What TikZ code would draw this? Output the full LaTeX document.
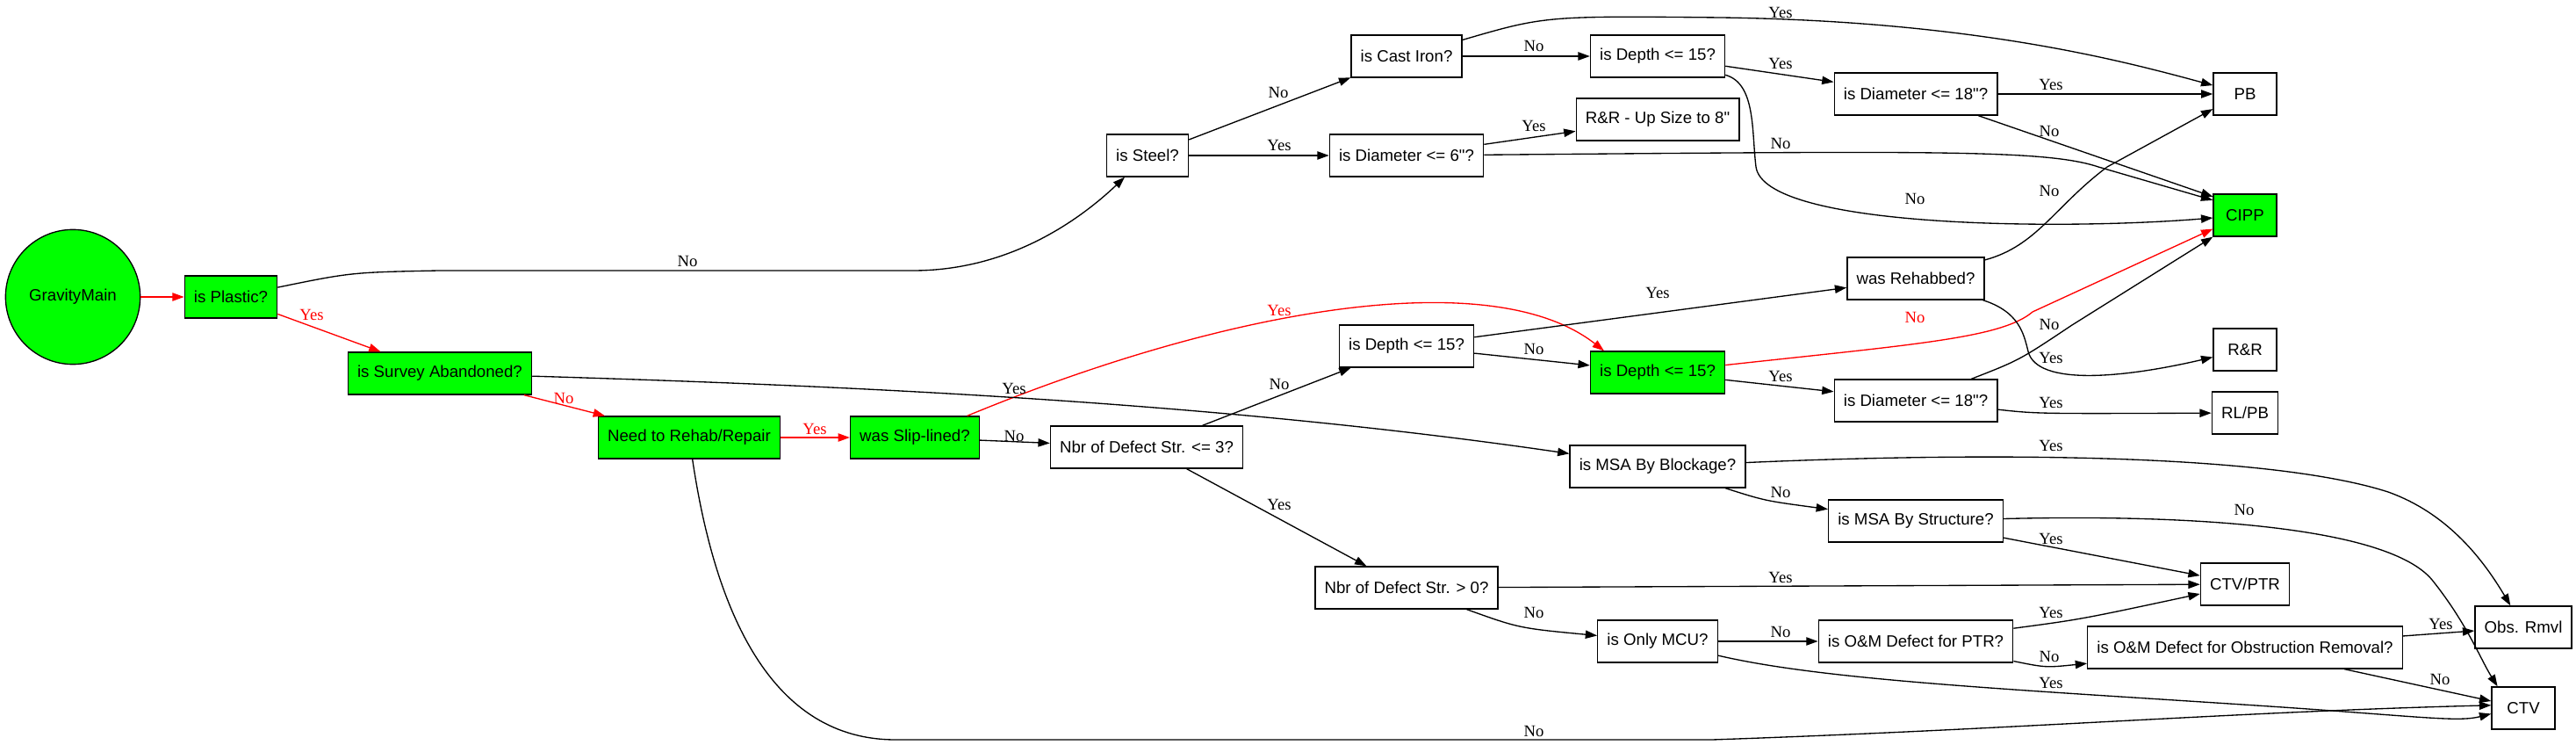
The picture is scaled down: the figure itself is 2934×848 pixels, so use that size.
\documentclass[tikz,border=0pt]{standalone}
\usepackage{fontspec}
\setmainfont{Liberation Serif}
\newfontfamily\gvsans{Liberation Sans}
\usetikzlibrary{arrows.meta}
\definecolor{gvgreen}{RGB}{0,255,0}
\definecolor{gvred}{RGB}{255,0,0}

\begin{document}
\begin{tikzpicture}[
    x=0.75pt, y=-0.75pt,
    every node/.style={font=\fontsize{14}{16}\selectfont},
    box/.style={draw, line width=1pt, font=\gvsans\fontsize{14}{16}\selectfont, minimum height=36pt, minimum width=54pt, inner xsep=8pt, inner ysep=0pt},
    gobox/.style={box, fill=gvgreen},
    arrow/.style={-{Triangle[length=10pt, width=7pt]}, line width=1pt},
    redarrow/.style={arrow, gvred},
    lbl/.style={inner sep=0pt},
    redlbl/.style={lbl, text=gvred}
]
\useasboundingbox (0,0) rectangle (2934,848);

% Start
\node[circle, draw, line width=1pt, fill=gvgreen, font=\gvsans\fontsize{14}{16}\selectfont, minimum size=115pt, inner sep=0pt] (gm) at (83,338) {GravityMain};
\node[gobox] (plastic) at (263,338) {is Plastic?};
\node[gobox] (survey) at (501,425) {is Survey Abandoned?};
\node[gobox] (need) at (785,498) {Need to Rehab/Repair};
\node[gobox] (slip) at (1042,498) {was Slip-lined?};

% Steel / cast iron branch
\node[box] (steel) at (1307,177) {is Steel?};
\node[box] (castiron) at (1602,64) {is Cast Iron?};
\node[box] (diam6) at (1602,177) {is Diameter <= 6"?};
\node[box] (depthA) at (1888,64) {is Depth <= 15?};
\node[box] (rr8) at (1888,136) {R\&R - Up Size to 8"};
\node[box] (diam18A) at (2182,107) {is Diameter <= 18"?};

% Slip-lined branch
\node[box] (nbr3) at (1306,509) {Nbr of Defect Str. <= 3?};
\node[box] (depthM) at (1602,394) {is Depth <= 15?};
\node[gobox] (gdepth) at (1888,424) {is Depth <= 15?};
\node[box] (rehab) at (2182,317) {was Rehabbed?};
\node[box] (diam18B) at (2182,456) {is Diameter <= 18"?};

% MSA branch
\node[box] (msaB) at (1888,531) {is MSA By Blockage?};
\node[box] (msaS) at (2182,593) {is MSA By Structure?};
\node[box] (nbr0) at (1602,669) {Nbr of Defect Str. > 0?};
\node[box] (onlyMCU) at (1888,730) {is Only MCU?};
\node[box] (omPTR) at (2182,730) {is O\&M Defect for PTR?};
\node[box] (omObs) at (2557,737) {is O\&M Defect for Obstruction Removal?};

% Results
\node[box] (pb) at (2557,107) {PB};
\node[gobox] (cipp) at (2557,245) {CIPP};
\node[box] (rr) at (2557,398) {R\&R};
\node[box] (rlpb) at (2557,470) {RL/PB};
\node[box] (ctvptr) at (2557,665) {CTV/PTR};
\node[box] (obs) at (2874,714) {Obs. Rmvl};
\node[box] (ctv) at (2874,806) {CTV};

% Red path
\draw[redarrow] (gm) -- (plastic);
\draw[redarrow] (plastic) -- (survey);
\node[redlbl] (lPlasticYes) at (355,358) {Yes};
\draw[redarrow] (survey) -- (need);
\node[redlbl] (lSurveyNo) at (642,453) {No};
\draw[redarrow] (need) -- (slip);
\node[redlbl] (lNeedYes) at (928,488) {Yes};
\draw[redarrow] (slip) .. controls (1400,350) and (1700,300) .. (gdepth.158);
\node[redlbl] (lSlipYes) at (1457,353) {Yes};
\draw[redarrow] (gdepth) .. controls (2180,392) and (2280,385) .. (2315,355) -- (cipp.203);
\node[redlbl] (lGdepthNo) at (2181,361) {No};

% Steel edges
\draw[arrow] (plastic) .. controls (400,310) .. (500,308) -- (1040,308) .. controls (1150,308) and (1230,250) .. (steel);
\node[lbl] (lPlasticNo) at (783,297) {No};
\draw[arrow] (steel) -- (castiron);
\node[lbl] (lSteelNo) at (1456,105) {No};
\draw[arrow] (steel) -- (diam6);
\node[lbl] (lSteelYes) at (1457,165) {Yes};
\draw[arrow] (castiron) -- (depthA);
\node[lbl] (lCastNo) at (1747,52) {No};
\draw[arrow] (castiron) .. controls (1760,18) .. (1960,20) .. controls (2250,24) and (2420,70) .. (pb);
\node[lbl] (lCastYes) at (2028,14) {Yes};
\draw[arrow] (depthA) -- (diam18A);
\node[lbl] (lDepthAYes) at (2028,72) {Yes};
\draw[arrow] (depthA) .. controls (2000,95) and (1995,150) .. (2000,190) .. controls (2010,260) and (2350,262) .. (cipp);
\node[lbl] (lDepthANo) at (2181,226) {No};
\draw[arrow] (diam6) -- (rr8);
\node[lbl] (lDiam6Yes) at (1747,143) {Yes};
\draw[arrow] (diam6) .. controls (2200,172) and (2330,170) .. (2390,190) -- (cipp.155);
\node[lbl] (lDiam6No) at (2028,163) {No};
\draw[arrow] (diam18A) -- (pb);
\node[lbl] (lDiamAYes) at (2336,96) {Yes};
\draw[arrow] (diam18A) -- (cipp.150);
\node[lbl] (lDiamANo) at (2334,149) {No};

% Slip-lined edges
\draw[arrow] (need) .. controls (815,700) and (880,842) .. (1020,842) -- (1950,842) .. controls (2300,830) and (2550,810) .. (ctv.175);
\node[lbl] (lNeedNo) at (1747,832) {No};
\draw[arrow] (slip) -- (nbr3);
\node[lbl] (lSlipNo) at (1155,496) {No};
\draw[arrow] (nbr3) -- (depthM);
\node[lbl] (lNbr3No) at (1457,437) {No};
\draw[arrow] (nbr3) -- (nbr0);
\node[lbl] (lNbr3Yes) at (1457,574) {Yes};
\draw[arrow] (depthM) -- (rehab);
\node[lbl] (lDepthMYes) at (1888,333) {Yes};
\draw[arrow] (depthM) -- (gdepth);
\node[lbl] (lDepthMNo) at (1747,397) {No};
\draw[arrow] (gdepth) -- (diam18B);
\node[lbl] (lGdepthYes) at (2028,428) {Yes};
\draw[arrow] (rehab) .. controls (2320,280) and (2340,235) .. (2400,190) -- (pb.205);
\node[lbl] (lRehabNo) at (2334,217) {No};
\draw[arrow] (rehab) .. controls (2300,355) and (2305,380) .. (2310,400) .. controls (2320,440) and (2420,430) .. (rr);
\node[lbl] (lRehabYes) at (2336,407) {Yes};
\draw[arrow] (diam18B) .. controls (2300,410) .. (2360,370) -- (cipp.south west);
\node[lbl] (lDiamBNo) at (2334,369) {No};
\draw[arrow] (diam18B) .. controls (2320,471) .. (rlpb);
\node[lbl] (lDiamBYes) at (2336,458) {Yes};

% MSA edges
\draw[arrow] (survey) .. controls (1000,440) and (1400,460) .. (msaB);
\node[lbl] (lSurveyYes) at (1155,442) {Yes};
\draw[arrow] (msaB) .. controls (2250,515) and (2580,515) .. (2720,560) .. controls (2790,585) and (2830,640) .. (obs);
\node[lbl] (lMsaBYes) at (2336,507) {Yes};
\draw[arrow] (msaB) .. controls (2010,570) .. (msaS);
\node[lbl] (lMsaBNo) at (2028,560) {No};
\draw[arrow] (msaS) .. controls (2500,585) and (2720,600) .. (2770,660) .. controls (2810,710) and (2825,750) .. (ctv.140);
\node[lbl] (lMsaSNo) at (2556,580) {No};
\draw[arrow] (msaS) -- (ctvptr);
\node[lbl] (lMsaSYes) at (2336,613) {Yes};
\draw[arrow] (nbr0) -- (ctvptr);
\node[lbl] (lNbr0Yes) at (2028,657) {Yes};
\draw[arrow] (nbr0) .. controls (1730,715) .. (onlyMCU);
\node[lbl] (lNbr0No) at (1747,697) {No};
\draw[arrow] (onlyMCU) -- (omPTR);
\node[lbl] (lMcuNo) at (2028,719) {No};
\draw[arrow] (onlyMCU) .. controls (2080,775) and (2300,785) .. (2600,805) .. controls (2760,816) and (2800,822) .. (ctv.190);
\node[lbl] (lMcuYes) at (2336,777) {Yes};
\draw[arrow] (omPTR) .. controls (2370,705) .. (ctvptr);
\node[lbl] (lPtrYes) at (2336,697) {Yes};
\draw[arrow] (omPTR) .. controls (2330,760) .. (omObs);
\node[lbl] (lPtrNo) at (2334,747) {No};
\draw[arrow] (omObs) -- (obs);
\node[lbl] (lObsYes) at (2780,710) {Yes};
\draw[arrow] (omObs) -- (ctv);
\node[lbl] (lObsNo) at (2779,773) {No};

\end{tikzpicture}
\end{document}
